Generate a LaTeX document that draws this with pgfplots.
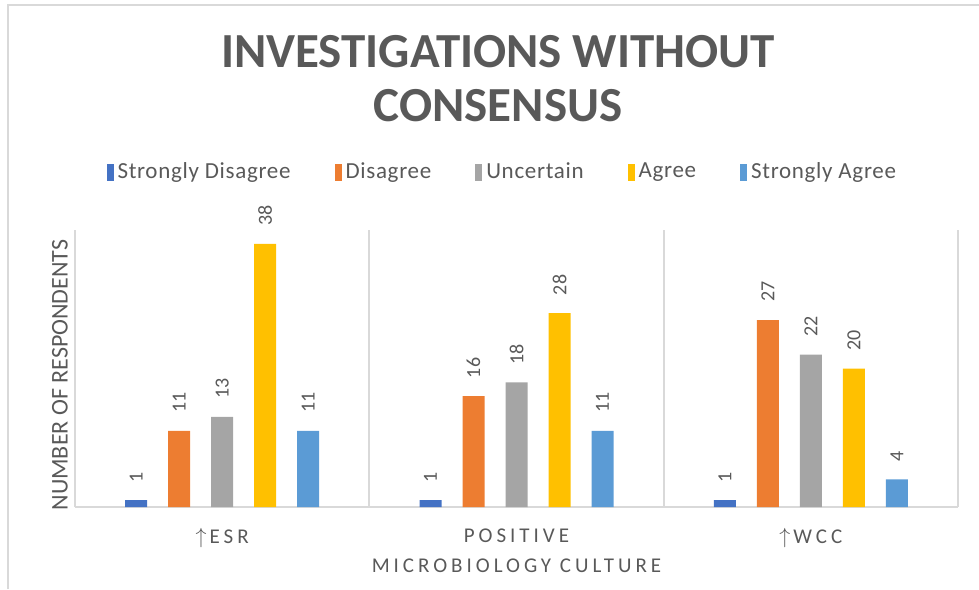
\documentclass[border=0pt]{standalone}
\usepackage{pgfplots}
\pgfplotsset{compat=1.18}
\usepackage{fontspec}
\setmainfont{Carlito}
\newfontfamily\spaced[LetterSpace=19]{Carlito}
\newfontfamily\legfont[LetterSpace=3]{Carlito}
\definecolor{c1}{HTML}{4472C4}
\definecolor{c2}{HTML}{ED7D31}
\definecolor{c3}{HTML}{A5A5A5}
\definecolor{c4}{HTML}{FFC000}
\definecolor{c5}{HTML}{5B9BD5}
\definecolor{txt}{HTML}{595959}
\definecolor{grd}{HTML}{D9D9D9}
\pgfplotsset{/pgfplots/ybar legend/.style={/pgfplots/legend image code/.code={\fill[##1] (0pt,-0.42em) rectangle (3.5pt,0.42em);}}}
\begin{document}
\begin{tikzpicture}[x=1pt,y=1pt]
\begin{axis}[scale only axis,
  width=441.5pt, height=138.5pt,
  ybar=10.5pt, bar width=11pt,
  ymin=0, ymax=40, xmin=-0.5, xmax=2.5,
  axis y line=none, axis x line*=bottom,
  x axis line style={grd, line width=1pt, -},
  ytick=\empty,
  xtick={0,1,2},
  xticklabels={{$\uparrow$\kern1.5ptESR},{POSITIVE\\MICROBIOLOGY CULTURE},{$\uparrow$\kern1.5ptWCC}},
  xticklabel style={align=center, text=txt, font=\spaced\fontsize{10.5}{15}\selectfont, yshift=-3pt},
  tick style={draw=none},
  extra x ticks={-0.5,0.5,1.5,2.5}, extra x tick labels={},
  extra x tick style={grid=major},
  major grid style={grd, line width=1pt},
  clip=false,
  /pgf/number format/assume math mode=true,
  nodes near coords,
  every node near coord/.append style={yshift=5.5pt, font=\fontsize{10}{12}\selectfont, text=txt, rotate=90, anchor=west},
  legend style={at={(0.485,1.209)}, anchor=center, draw=none, fill=none,
    font=\legfont\fontsize{11.5}{14}\selectfont, text=txt,
    /tikz/every even column/.append style={column sep=20pt}},
  legend columns=-1,
]
\addplot[fill=c1, draw=none] coordinates {(0,1) (1,1) (2,1)};
\addplot[fill=c2, draw=none] coordinates {(0,11) (1,16) (2,27)};
\addplot[fill=c3, draw=none] coordinates {(0,13) (1,18) (2,22)};
\addplot[fill=c4, draw=none] coordinates {(0,38) (1,28) (2,20)};
\addplot[fill=c5, draw=none] coordinates {(0,11) (1,11) (2,4)};
\legend{Strongly Disagree, Disagree, Uncertain, Agree, Strongly Agree}
\coordinate (O) at (rel axis cs:0,0);
\end{axis}
\pgfresetboundingbox
\begin{scope}[shift={(O)}]
\begin{scope}[shift={(-37.5,-41)}]
\useasboundingbox (0,0) rectangle (489.5,294.5);
\draw[grd, line width=1pt] (4,0) -- (4,292) -- (489.5,292);
\node[text=txt, font=\fontsize{24.5}{28}\selectfont\bfseries, anchor=base] at (249,260.5) {INVESTIGATIONS WITHOUT};
\node[text=txt, font=\fontsize{24.5}{28}\selectfont\bfseries, anchor=base] at (249,233.5) {CONSENSUS};
\node[text=txt, rotate=90, font=\fontsize{12}{14}\selectfont] at (30,107) {NUMBER OF RESPONDENTS};
\end{scope}
\end{scope}
\end{tikzpicture}
\end{document}
